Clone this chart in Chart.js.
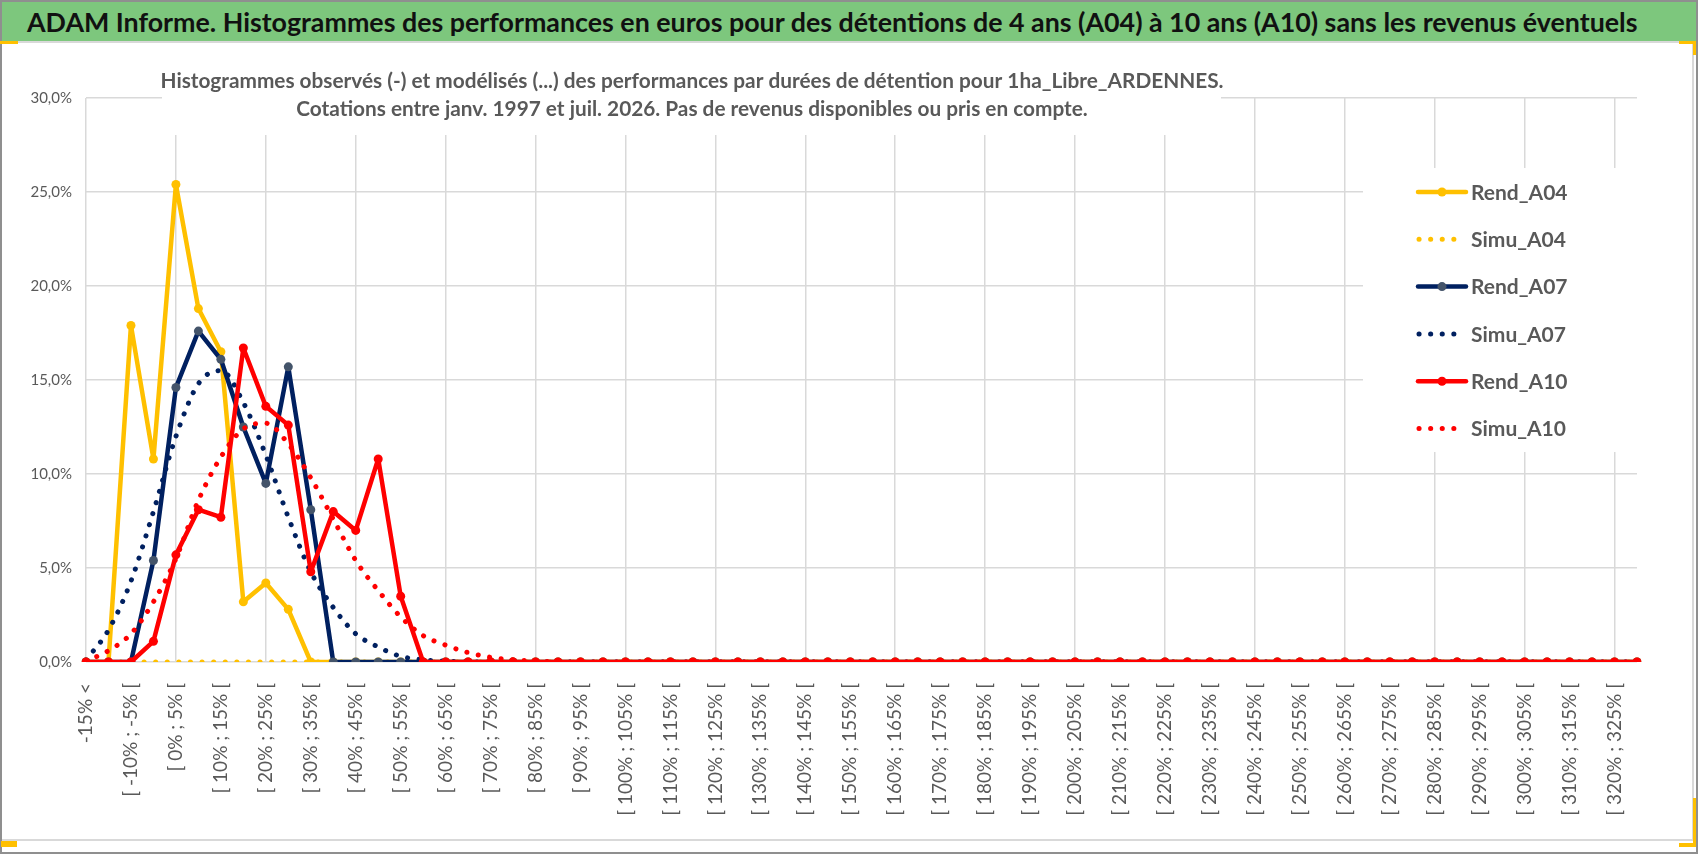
<!DOCTYPE html>
<html lang="fr">
<head>
<meta charset="utf-8">
<title>ADAM Informe</title>
<script src="https://cdn.jsdelivr.net/npm/chart.js@4.4.1/dist/chart.umd.min.js"></script>
<style>
body{margin:0;background:#fff;overflow:hidden;font-family:Lato,"Open Sans",sans-serif;}
#marco{position:absolute;left:0;top:0;width:1698px;height:854px;box-sizing:border-box;border:2px solid #8f8f8f;}
#bandeau{position:absolute;left:2px;top:2px;width:1694px;height:39px;background:#7dc77d;color:#111;font-weight:bold;font-size:26.8px;line-height:40px;padding-left:25px;box-sizing:border-box;white-space:nowrap;}
#cadre{position:absolute;left:2px;top:41px;width:1692px;height:800px;box-sizing:border-box;border:2px solid #d9d9d9;border-left:none;}
#grafica{position:absolute;left:0;top:0;}
.poignee{position:absolute;background:#ffc000;}
</style>
</head>
<body>
<div id="marco"></div>
<div id="cadre"></div>
<div id="bandeau">ADAM Informe. Histogrammes des performances en euros pour des détentions de 4 ans (A04) à 10 ans (A10) sans les revenus éventuels</div>
<canvas id="grafica" width="1698" height="854"></canvas>
<div class="poignee" style="left:0;top:41px;width:18px;height:3px"></div>
<div class="poignee" style="left:1679px;top:41px;width:17px;height:3px"></div>
<div class="poignee" style="left:1693px;top:41px;width:3px;height:14px"></div>
<div class="poignee" style="left:1px;top:841px;width:16px;height:6px"></div>
<div class="poignee" style="left:1693px;top:798px;width:3px;height:49px"></div>
<div class="poignee" style="left:1679px;top:843px;width:17px;height:4px"></div>
<script>
// classes de performance (pas de 5%)
var classes = [
    "-15% <", "[ -15% ; -10% [", "[ -10% ; -5% [", "[ -5% ; 0% [", "[ 0% ; 5% [", "[ 5% ; 10% [", "[ 10% ; 15% [", "[ 15% ; 20% [", "[ 20% ; 25% [", "[ 25% ; 30% [",
    "[ 30% ; 35% [", "[ 35% ; 40% [", "[ 40% ; 45% [", "[ 45% ; 50% [", "[ 50% ; 55% [", "[ 55% ; 60% [", "[ 60% ; 65% [", "[ 65% ; 70% [", "[ 70% ; 75% [", "[ 75% ; 80% [",
    "[ 80% ; 85% [", "[ 85% ; 90% [", "[ 90% ; 95% [", "[ 95% ; 100% [", "[ 100% ; 105% [", "[ 105% ; 110% [", "[ 110% ; 115% [", "[ 115% ; 120% [", "[ 120% ; 125% [", "[ 125% ; 130% [",
    "[ 130% ; 135% [", "[ 135% ; 140% [", "[ 140% ; 145% [", "[ 145% ; 150% [", "[ 150% ; 155% [", "[ 155% ; 160% [", "[ 160% ; 165% [", "[ 165% ; 170% [", "[ 170% ; 175% [", "[ 175% ; 180% [",
    "[ 180% ; 185% [", "[ 185% ; 190% [", "[ 190% ; 195% [", "[ 195% ; 200% [", "[ 200% ; 205% [", "[ 205% ; 210% [", "[ 210% ; 215% [", "[ 215% ; 220% [", "[ 220% ; 225% [", "[ 225% ; 230% [",
    "[ 230% ; 235% [", "[ 235% ; 240% [", "[ 240% ; 245% [", "[ 245% ; 250% [", "[ 250% ; 255% [", "[ 255% ; 260% [", "[ 260% ; 265% [", "[ 265% ; 270% [", "[ 270% ; 275% [", "[ 275% ; 280% [",
    "[ 280% ; 285% [", "[ 285% ; 290% [", "[ 290% ; 295% [", "[ 295% ; 300% [", "[ 300% ; 305% [", "[ 305% ; 310% [", "[ 310% ; 315% [", "[ 315% ; 320% [", "[ 320% ; 325% [", "[ 325% ; 330% ["
];

// frequences en %
var rendA04 = [
    0, 0, 17.9, 10.8, 25.4, 18.8, 16.5, 3.2, 4.2, 2.8,
    0, 0, 0, 0, 0, 0, 0, 0, 0, 0,
    0, 0, 0, 0, 0, 0, 0, 0, 0, 0,
    0, 0, 0, 0, 0, 0, 0, 0, 0, 0,
    0, 0, 0, 0, 0, 0, 0, 0, 0, 0,
    0, 0, 0, 0, 0, 0, 0, 0, 0, 0,
    0, 0, 0, 0, 0, 0, 0, 0, 0, 0
];
var simuA04 = [
    0, 0, 0, 0, 0, 0, 0, 0, 0, 0,
    0, 0, 0, 0, 0, 0, 0, 0, 0, 0,
    0, 0, 0, 0, 0, 0, 0, 0, 0, 0,
    0, 0, 0, 0, 0, 0, 0, 0, 0, 0,
    0, 0, 0, 0, 0, 0, 0, 0, 0, 0,
    0, 0, 0, 0, 0, 0, 0, 0, 0, 0,
    0, 0, 0, 0, 0, 0, 0, 0, 0, 0
];
var rendA07 = [
    0, 0, 0, 5.4, 14.6, 17.6, 16.1, 12.5, 9.5, 15.7,
    8.1, 0, 0, 0, 0, 0, 0, 0, 0, 0,
    0, 0, 0, 0, 0, 0, 0, 0, 0, 0,
    0, 0, 0, 0, 0, 0, 0, 0, 0, 0,
    0, 0, 0, 0, 0, 0, 0, 0, 0, 0,
    0, 0, 0, 0, 0, 0, 0, 0, 0, 0,
    0, 0, 0, 0, 0, 0, 0, 0, 0, 0
];
var simuA07 = [
    0.1, 1.7, 4.3, 8.0, 12.0, 14.8, 15.5, 13.8, 11.0, 7.7,
    4.8, 2.9, 1.5, 0.8, 0.3, 0.12, 0.04, 0.01, 0, 0,
    0, 0, 0, 0, 0, 0, 0, 0, 0, 0,
    0, 0, 0, 0, 0, 0, 0, 0, 0, 0,
    0, 0, 0, 0, 0, 0, 0, 0, 0, 0,
    0, 0, 0, 0, 0, 0, 0, 0, 0, 0,
    0, 0, 0, 0, 0, 0, 0, 0, 0, 0
];
var rendA10 = [
    0, 0, 0, 1.1, 5.7, 8.1, 7.7, 16.7, 13.6, 12.6,
    4.8, 8.0, 7.0, 10.8, 3.5, 0, 0, 0, 0, 0,
    0, 0, 0, 0, 0, 0, 0, 0, 0, 0,
    0, 0, 0, 0, 0, 0, 0, 0, 0, 0,
    0, 0, 0, 0, 0, 0, 0, 0, 0, 0,
    0, 0, 0, 0, 0, 0, 0, 0, 0, 0,
    0, 0, 0, 0, 0, 0, 0, 0, 0, 0
];
var simuA10 = [
    0.05, 0.6, 1.5, 3.2, 5.5, 8.6, 10.9, 12.4, 12.7, 11.6,
    9.8, 7.6, 5.4, 3.8, 2.4, 1.4, 0.9, 0.5, 0.25, 0.12,
    0.05, 0.02, 0, 0, 0, 0, 0, 0, 0, 0,
    0, 0, 0, 0, 0, 0, 0, 0, 0, 0,
    0, 0, 0, 0, 0, 0, 0, 0, 0, 0,
    0, 0, 0, 0, 0, 0, 0, 0, 0, 0,
    0, 0, 0, 0, 0, 0, 0, 0, 0, 0
];

var titreLignes = [
    "Histogrammes observés (-) et modélisés (...) des performances par durées de détention pour 1ha_Libre_ARDENNES.",
    "Cotations entre janv. 1997 et juil. 2026. Pas de revenus disponibles ou pris en compte."
];

var jaune = '#ffc000';
var marine = '#002060';
var ardoise = '#44546a';
var rouge = '#ff0000';
var gris = '#595959';
var grille = '#d9d9d9';

function serieRend(nom, valeurs, couleur, marqueur, ordre){
    return {
        label: nom,
        data: valeurs,
        borderColor: couleur,
        backgroundColor: couleur,
        borderWidth: 4.5,
        borderJoinStyle: 'round',
        borderCapStyle: 'round',
        pointRadius: 4.5,
        pointBackgroundColor: marqueur,
        pointBorderColor: marqueur,
        pointBorderWidth: 0,
        tension: 0,
        order: ordre
    };
}
function serieSimu(nom, valeurs, couleur, ordre){
    return {
        label: nom,
        data: valeurs,
        borderColor: couleur,
        backgroundColor: couleur,
        borderWidth: 5,
        borderDash: [0.1, 11.5],
        borderCapStyle: 'round',
        borderJoinStyle: 'round',
        pointRadius: 0,
        cubicInterpolationMode: 'monotone',
        order: ordre
    };
}

// titre interne, pose sur un fond blanc au dessus de la grille
const titreInterne = {
    id: 'titreInterne',
    afterDraw: function(chart){
        var ctx = chart.ctx;
        ctx.save();
        ctx.fillStyle = '#ffffff';
        ctx.fillRect(162, 45, 1059, 90);
        ctx.fillStyle = gris;
        ctx.font = 'bold 20.8px Lato, "Open Sans", sans-serif';
        ctx.textAlign = 'center';
        ctx.textBaseline = 'alphabetic';
        ctx.fillText(titreLignes[0], 692, 88);
        ctx.fillText(titreLignes[1], 692, 116);
        ctx.restore();
    }
};

// legende a droite, dans la zone du graphique
const legendeDroite = {
    id: 'legendeDroite',
    afterDraw: function(chart){
        var ctx = chart.ctx;
        ctx.save();
        ctx.fillStyle = '#ffffff';
        ctx.fillRect(1363, 168, 278, 284);
        var y0 = 192, pas = 47.3;
        chart.data.datasets.forEach(function(ds, i){
            var y = y0 + i*pas;
            ctx.strokeStyle = ds.borderColor;
            if (ds.borderDash){
                ctx.lineWidth = 5;
                ctx.lineCap = 'round';
                ctx.setLineDash([0.1, 11.5]);
                ctx.beginPath();
                ctx.moveTo(1419, y);
                ctx.lineTo(1462, y);
                ctx.stroke();
                ctx.setLineDash([]);
            } else {
                ctx.lineWidth = 4.5;
                ctx.lineCap = 'round';
                ctx.beginPath();
                ctx.moveTo(1418, y);
                ctx.lineTo(1466, y);
                ctx.stroke();
                ctx.fillStyle = ds.pointBackgroundColor;
                ctx.beginPath();
                ctx.arc(1442, y, 4.5, 0, Math.PI*2);
                ctx.fill();
            }
            ctx.fillStyle = gris;
            ctx.font = 'bold 21px Lato, "Open Sans", sans-serif';
            ctx.textAlign = 'left';
            ctx.textBaseline = 'middle';
            ctx.fillText(ds.label, 1471, y + 1);
        });
        ctx.restore();
    }
};

var ctx = document.getElementById('grafica').getContext('2d');
var myChart = new Chart(ctx, {
    type: 'line',
    data: {
        labels: classes,
        datasets: [
            serieRend('Rend_A04', rendA04, jaune, jaune, 6),
            serieSimu('Simu_A04', simuA04, jaune, 5),
            serieRend('Rend_A07', rendA07, marine, ardoise, 4),
            serieSimu('Simu_A07', simuA07, marine, 3),
            serieRend('Rend_A10', rendA10, rouge, rouge, 2),
            serieSimu('Simu_A10', simuA10, rouge, 1)
        ]
    },
    options: {
        responsive: false,
        animation: false,
        layout: {
            padding: {left: 0, right: 61, top: 98, bottom: 32}
        },
        scales: {
            x: {
                offset: false,
                border: {display: false},
                grid: {
                    drawTicks: false,
                    lineWidth: 1.5,
                    color: function(c){
                        return c.index % 4 === 0 ? grille : 'rgba(0,0,0,0)';
                    }
                },
                ticks: {
                    autoSkip: false,
                    maxRotation: 90,
                    minRotation: 90,
                    padding: 21,
                    color: gris,
                    font: {family: 'Lato', size: 19},
                    callback: function(value, index){
                        return index % 2 === 0 ? this.getLabelForValue(value) : '';
                    }
                },
                afterFit: function(scale){
                    scale.height = 160;
                }
            },
            y: {
                min: 0,
                max: 30,
                border: {display: false},
                grid: {
                    drawTicks: false,
                    lineWidth: 1.5,
                    color: grille
                },
                ticks: {
                    stepSize: 5,
                    padding: 14,
                    color: gris,
                    font: {family: 'Lato', size: 15},
                    callback: function(value){
                        return value.toFixed(1).replace('.', ',') + '%';
                    }
                },
                afterFit: function(scale){
                    scale.width = 86;
                }
            }
        },
        plugins: {
            legend: {display: false},
            title: {display: false},
            tooltip: {enabled: false}
        }
    },
    plugins: [titreInterne, legendeDroite]
});
</script>
</body>
</html>
